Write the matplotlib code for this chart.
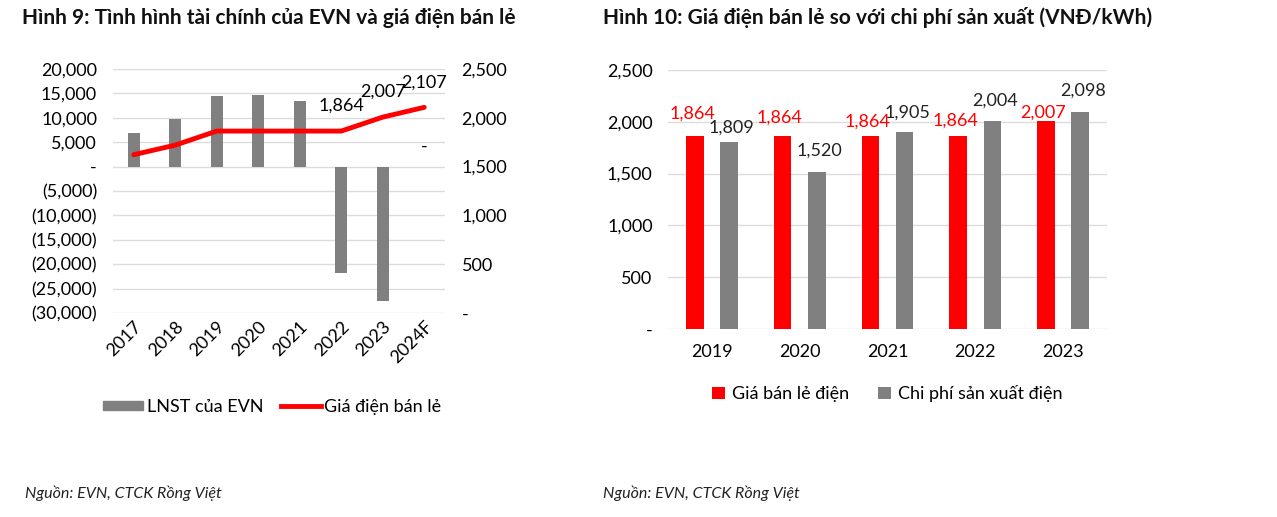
import matplotlib
matplotlib.use('Agg')
import matplotlib.pyplot as plt
from matplotlib import ticker
from matplotlib.patches import Patch
from matplotlib.lines import Line2D
import numpy as np

# ---- data (Hình 9)
years_9 = ['2017', '2018', '2019', '2020', '2021', '2022', '2023', '2024F']
lnst = [6900, 9800, 14500, 14700, 13500, -21900, -27500, np.nan]
gia_ban_le = [1622, 1720, 1864, 1864, 1864, 1864, 2007, 2107]
line_labels = ['', '', '', '', '', '1,864', '2,007', '2,107']

# ---- data (Hình 10)
years_10 = ['2019', '2020', '2021', '2022', '2023']
gia_ban = [1864, 1864, 1864, 1864, 2007]
chi_phi = [1809, 1520, 1905, 2004, 2098]

# label offsets in points (manual placement in the original)
red_dy = [16, 13, 10, 11, 6]
gray_dy = [10, 15, 14, 15, 15]

RED = '#ff0000'
GRAY = '#808080'
GRID = '#dcdcdc'

plt.rcParams.update({
    'font.family': ['Lato', 'DejaVu Sans'],
    'font.size': 13,
})

fig = plt.figure(figsize=(12.77, 5.17), dpi=100)
W, H = 1277, 517


def px_axes(x0, y0, x1, y1):
    return fig.add_axes([x0 / W, 1 - y1 / H, (x1 - x0) / W, (y1 - y0) / H])


def fmt_left(v, pos):
    if v == 0:
        return '-'
    if v < 0:
        return '({:,.0f})'.format(-v)
    return '{:,.0f}'.format(v)


def fmt_plain(v, pos):
    return '-' if v == 0 else '{:,.0f}'.format(v)


# ================= Hình 9 =================
ax = px_axes(113, 69, 445, 313)
x = np.arange(len(years_9))
ax.bar(x, lnst, width=0.3, color=GRAY, zorder=2)
ax.set_xlim(-0.5, len(years_9) - 0.5)
ax.set_ylim(-30000, 20000)
ax.yaxis.set_major_locator(ticker.MultipleLocator(5000))
ax.yaxis.set_major_formatter(ticker.FuncFormatter(fmt_left))
ax.grid(axis='y', color=GRID, lw=1)
ax.set_axisbelow(True)
for s in ax.spines.values():
    s.set_visible(False)
ax.tick_params(axis='y', length=0, pad=11.5)
ax.tick_params(axis='x', length=0, pad=4)
ax.set_xticks(x)
ax.set_xticklabels(years_9, rotation=45, ha='right', rotation_mode='anchor')

# "-" label for the forecast year without profit data
for xi, v in zip(x, lnst):
    if np.isnan(v):
        ax.annotate('-', (xi, 0), xytext=(0, 14), textcoords='offset points',
                    ha='center', va='center', fontsize=13)

ax2 = ax.twinx()
ax2.plot(x, gia_ban_le, color=RED, lw=3.5, zorder=3, solid_capstyle='round')
ax2.set_ylim(0, 2500)
ax2.yaxis.set_major_locator(ticker.MultipleLocator(500))
ax2.yaxis.set_major_formatter(ticker.FuncFormatter(fmt_plain))
for s in ax2.spines.values():
    s.set_visible(False)
ax2.tick_params(length=0, pad=12)
for xi, v, t in zip(x, gia_ban_le, line_labels):
    if t:
        ax2.annotate(t, (xi, v), xytext=(0, 18), textcoords='offset points',
                     ha='center', va='center', fontsize=13)

handles = [Patch(color=GRAY), Line2D([], [], color=RED, lw=3.5)]
ax.legend(handles, ['LNST của EVN', 'Giá điện bán lẻ'], loc='center',
          bbox_to_anchor=(0.48, -0.385), ncol=2, frameon=False,
          handlelength=2.2, handleheight=0.45, handletextpad=0.2,
          columnspacing=1.0, fontsize=13)

# ================= Hình 10 =================
bx = px_axes(668, 70, 1107, 329)
x2 = np.arange(len(years_10))
off, bw = 0.195, 0.2
bx.bar(x2 - off, gia_ban, width=bw, color=RED, zorder=2, label='Giá bán lẻ điện')
bx.bar(x2 + off, chi_phi, width=bw, color=GRAY, zorder=2, label='Chi phí sản xuất điện')
bx.set_xlim(-0.5, len(years_10) - 0.5)
bx.set_ylim(0, 2500)
bx.yaxis.set_major_locator(ticker.MultipleLocator(500))
bx.yaxis.set_major_formatter(ticker.FuncFormatter(fmt_plain))
bx.grid(axis='y', color=GRID, lw=1)
bx.set_axisbelow(True)
for s in bx.spines.values():
    s.set_visible(False)
bx.tick_params(length=0, pad=11)
bx.set_xticks(x2)
bx.set_xticklabels(years_10)
for xi, v, dy in zip(x2, gia_ban, red_dy):
    bx.annotate('{:,}'.format(v), (xi - off, v), xytext=(-2, dy), textcoords='offset points',
                ha='center', va='center', color=RED, fontsize=13)
for xi, v, dy in zip(x2, chi_phi, gray_dy):
    bx.annotate('{:,}'.format(v), (xi + off, v), xytext=(2, dy), textcoords='offset points',
                ha='center', va='center', color='#222222', fontsize=13)
bx.legend(loc='center', bbox_to_anchor=(0.5, -0.25), ncol=2, frameon=False,
          handlelength=0.7, handleheight=0.7, handletextpad=0.4,
          columnspacing=1.6, fontsize=13)

# ---- titles and sources
fig.text(22 / W, 1 - 18 / H, 'Hình 9: Tình hình tài chính của EVN và giá điện bán lẻ',
         fontsize=15, fontweight='bold', va='center', color='#111111')
fig.text(603 / W, 1 - 18 / H, 'Hình 10: Giá điện bán lẻ so với chi phí sản xuất (VNĐ/kWh)',
         fontsize=15, fontweight='bold', va='center', color='#111111')
fig.text(25 / W, 1 - 493 / H, 'Nguồn: EVN, CTCK Rồng Việt', fontsize=11.5,
         style='italic', va='center', color='#222222')
fig.text(603 / W, 1 - 493 / H, 'Nguồn: EVN, CTCK Rồng Việt', fontsize=11.5,
         style='italic', va='center', color='#222222')

fig.savefig('out.png', dpi=100)
